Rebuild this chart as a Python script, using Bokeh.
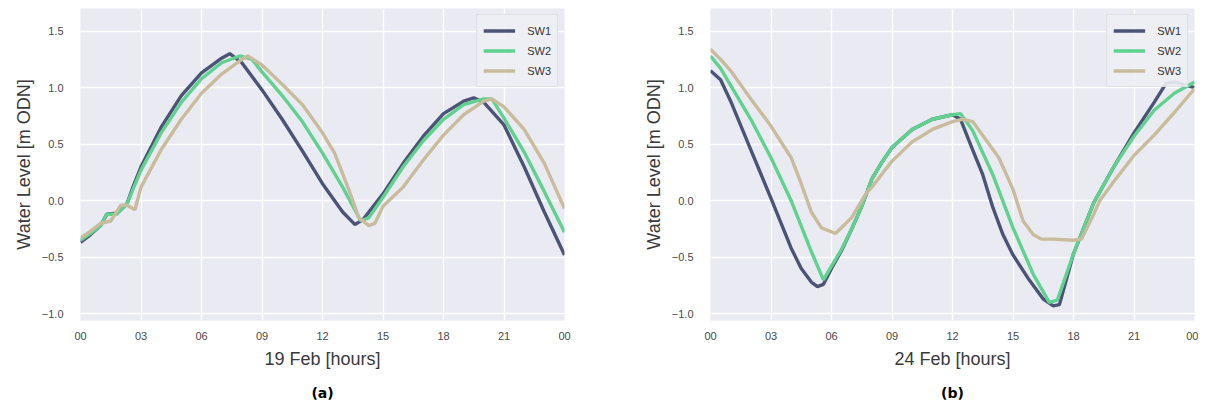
from bokeh.plotting import figure
from bokeh.layouts import row
from bokeh.models import FixedTicker, Title, Range1d
from bokeh.embed import file_html
from bokeh.resources import INLINE

# ---------------- data ----------------
# Panel (a): 19 Feb
a_sw1_h = [0, 0.5, 1, 1.3, 1.8, 2.3, 2.6, 3, 4, 5, 6, 7, 7.4, 8, 9, 10, 11, 12, 13, 13.6, 14, 15, 16, 17, 18, 19, 19.5, 20, 21, 22, 23, 24]
a_sw1_v = [-0.37, -0.3, -0.22, -0.12, -0.11, -0.03, 0.12, 0.3, 0.65, 0.93, 1.13, 1.26, 1.3, 1.22, 0.98, 0.72, 0.44, 0.15, -0.1, -0.21, -0.17, 0.06, 0.33, 0.57, 0.77, 0.88, 0.91, 0.87, 0.67, 0.3, -0.1, -0.48]

a_sw2_h = [0, 0.5, 1, 1.3, 1.8, 2.3, 2.6, 3, 4, 5, 6, 7, 7.9, 8.5, 9, 10, 11, 12, 13, 13.9, 14.3, 15, 16, 17, 18, 19, 20, 20.4, 21, 22, 23, 24]
a_sw2_v = [-0.35, -0.29, -0.22, -0.12, -0.12, -0.03, 0.1, 0.27, 0.6, 0.87, 1.08, 1.22, 1.28, 1.25, 1.14, 0.93, 0.70, 0.42, 0.12, -0.18, -0.15, 0.03, 0.3, 0.53, 0.72, 0.85, 0.9, 0.9, 0.73, 0.43, 0.08, -0.28]

a_sw3_h = [0, 0.5, 1, 1.5, 2, 2.3, 2.7, 3, 4, 5, 6, 7, 8, 8.3, 9, 10, 11, 12, 12.6, 13.3, 13.8, 14.3, 14.6, 15, 16, 17, 18, 19, 20, 20.4, 21, 22, 23, 24]
a_sw3_v = [-0.33, -0.27, -0.2, -0.18, -0.04, -0.04, -0.08, 0.12, 0.45, 0.72, 0.95, 1.12, 1.25, 1.28, 1.2, 1.03, 0.85, 0.6, 0.42, 0.1, -0.15, -0.22, -0.2, -0.05, 0.12, 0.36, 0.58, 0.76, 0.88, 0.9, 0.83, 0.63, 0.33, -0.07]

# Panel (b): 24 Feb
b_sw1_h = [0, 0.5, 1, 2, 3, 4, 4.5, 5, 5.3, 5.6, 6, 6.5, 7, 7.5, 8, 8.5, 9, 10, 11, 12, 12.4, 13, 13.5, 14, 14.5, 15, 15.8, 16.5, 17, 17.3, 18, 19, 20, 21, 22, 22.6, 23, 24]
b_sw1_v = [1.15, 1.07, 0.88, 0.45, 0.02, -0.42, -0.6, -0.72, -0.76, -0.74, -0.6, -0.44, -0.25, -0.05, 0.19, 0.34, 0.47, 0.63, 0.72, 0.76, 0.72, 0.45, 0.23, -0.06, -0.3, -0.48, -0.7, -0.87, -0.93, -0.92, -0.47, -0.02, 0.3, 0.6, 0.87, 1.04, 1.05, 1.0]

b_sw2_h = [0, 0.5, 1, 2, 3, 4, 5, 5.6, 6, 6.5, 7, 7.5, 8, 8.5, 9, 10, 11, 12, 12.4, 13, 14, 15, 16, 16.8, 17.2, 18, 19, 20, 21, 22, 23, 24]
b_sw2_v = [1.28, 1.17, 1.02, 0.72, 0.38, 0.0, -0.45, -0.70, -0.58, -0.43, -0.25, -0.05, 0.19, 0.34, 0.47, 0.63, 0.72, 0.76, 0.77, 0.62, 0.23, -0.24, -0.65, -0.9, -0.88, -0.47, -0.02, 0.3, 0.57, 0.8, 0.95, 1.05]

b_sw3_h = [0, 0.5, 1, 1.6, 2, 3, 4, 4.5, 5, 5.5, 6.2, 7, 7.7, 8, 9, 10, 11, 12, 12.5, 13, 14.3, 15, 15.5, 16, 16.4, 17, 18, 18.4, 19, 19.3, 20, 21, 22, 23, 24]
b_sw3_v = [1.34, 1.25, 1.15, 1.0, 0.9, 0.66, 0.38, 0.15, -0.1, -0.24, -0.29, -0.15, 0.06, 0.12, 0.35, 0.52, 0.63, 0.70, 0.72, 0.70, 0.38, 0.1, -0.18, -0.3, -0.34, -0.34, -0.35, -0.34, -0.12, 0.0, 0.17, 0.4, 0.58, 0.78, 0.99]

series_names = ["SW1", "SW2", "SW3"]
series_colors = ["#4b5475", "#5ed28e", "#c9bc9c"]
x_ticks = [0, 3, 6, 9, 12, 15, 18, 21, 24]
x_tick_labels = ["00", "03", "06", "09", "12", "15", "18", "21", "00"]
y_ticks = [-1.0, -0.5, 0.0, 0.5, 1.0, 1.5]

FONT = "Liberation Sans"


def make_panel(series, xlabel, caption, right_border):
    p = figure(frame_width=484, frame_height=312, output_backend="svg",
               toolbar_location=None, x_range=Range1d(0, 24), y_range=Range1d(-1.06, 1.7),
               min_border_left=80, min_border_right=right_border, min_border_top=8,
               min_border_bottom=0)
    p.background_fill_color = "#eaeaf2"
    p.border_fill_color = "white"
    p.outline_line_color = None
    for g in (p.xgrid[0], p.ygrid[0]):
        g.grid_line_color = "white"
        g.grid_line_width = 1.3
    p.xaxis.ticker = FixedTicker(ticks=x_ticks)
    p.xaxis.major_label_overrides = {t: l for t, l in zip(x_ticks, x_tick_labels)}
    p.yaxis.ticker = FixedTicker(ticks=y_ticks)
    p.yaxis.major_label_overrides = {t: ("\u2212%.1f" % abs(t) if t < 0 else "%.1f" % t) for t in y_ticks}
    for ax in (p.xaxis[0], p.yaxis[0]):
        ax.axis_line_color = None
        ax.major_tick_line_color = None
        ax.minor_tick_line_color = None
        ax.major_label_text_font = FONT
        ax.major_label_text_font_size = "11px"
        ax.major_label_text_color = "#4a4a4a"
        ax.axis_label_text_font = FONT
        ax.axis_label_text_font_size = "18px"
        ax.axis_label_text_font_style = "normal"
        ax.axis_label_text_color = "#3a3a3a"
    p.xaxis.major_label_standoff = 5
    p.yaxis.major_label_standoff = 11
    p.xaxis.axis_label = xlabel
    p.xaxis.axis_label_standoff = 6
    p.yaxis.axis_label = "Water Level [m ODN]"
    p.yaxis.axis_label_standoff = 5

    for (hx, vy), name, col in zip(series, series_names, series_colors):
        p.line(hx, vy, line_color=col, line_width=3.4, legend_label=name)

    lg = p.legend[0]
    lg.location = "top_right"
    lg.margin = 6
    lg.padding = 6
    lg.spacing = 1
    lg.glyph_width = 32
    lg.glyph_height = 19
    lg.label_height = 19
    lg.label_standoff = 12
    lg.label_text_font = FONT
    lg.label_text_font_size = "11px"
    lg.label_text_color = "#333333"
    lg.background_fill_color = "#eef0f5"
    lg.background_fill_alpha = 0.9
    lg.border_line_color = "#cfcfd6"
    lg.border_line_width = 1

    cap = Title(text=caption, align="center", text_font="DejaVu Sans",
                text_font_style="bold", text_font_size="14px", text_color="black",
                standoff=23)
    p.add_layout(cap, "below")
    return p


pa = make_panel([(a_sw1_h, a_sw1_v), (a_sw2_h, a_sw2_v), (a_sw3_h, a_sw3_v)],
                "19 Feb [hours]", "(a)", 66)
pb = make_panel([(b_sw1_h, b_sw1_v), (b_sw2_h, b_sw2_v), (b_sw3_h, b_sw3_v)],
                "24 Feb [hours]", "(b)", 4)

layout = row(pa, pb)
open("out.html", "w").write(file_html(layout, INLINE))
